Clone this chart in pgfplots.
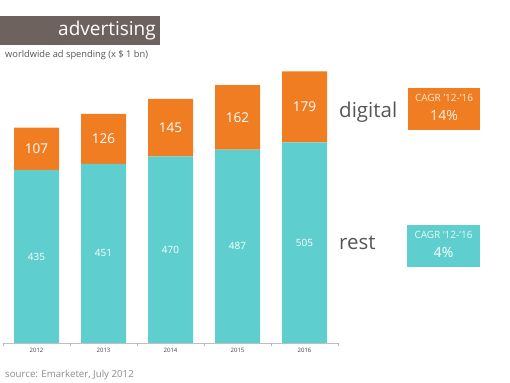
\documentclass[border=0pt]{standalone}
\usepackage{pgfplots}
\pgfplotsset{compat=1.18}
\usepackage{pgfplotstable}
\usepackage{fontspec}
\setmainfont{Open Sans}
\definecolor{dig}{HTML}{F07D22}
\definecolor{rst}{HTML}{5ECFCE}
\definecolor{ttl}{HTML}{6E625E}
\definecolor{txt}{HTML}{555555}
\pgfplotstableread{
x rest digital
0 435 107
1 451 126
2 470 145
3 487 162
4 505 179
}\datatable
\begin{document}
\begin{tikzpicture}[x=1pt,y=1pt]
\path[use as bounding box] (0,0) rectangle (510,382);
\begin{axis}[
  at={(3pt,39pt)}, anchor=south west,
  scale only axis, width=335pt, height=278pt,
  ymin=0, ymax=700, xmin=-0.5, xmax=4.5,
  ybar stacked, bar width=45pt,
  axis y line=none, axis x line*=bottom,
  axis line style={black!25, -},
  /pgf/number format/assume math mode=true,
  xtick={0,1,2,3,4}, xticklabels={2012,2013,2014,2015,2016},
  major tick length=0pt,
  x tick label style={font=\fontsize{6}{7}\selectfont, text=black!75, yshift=-2pt},
  extra x ticks={-0.5,0.5,1.5,2.5,3.5,4.5},
  extra x tick labels={},
  extra x tick style={major tick length=3pt, tick align=outside, tick style={black!30}},
  point meta=explicit,
  nodes near coords,
]
\addplot[fill=rst, draw=none,
  every node near coord/.style={anchor=center, text=white, font=\fontsize{10}{12}\selectfont}]
  table[x=x, y=rest, meta=rest] {\datatable};
\addplot[fill=dig, draw=none,
  every node near coord/.style={anchor=center, text=white, font=\fontsize{13.5}{15}\selectfont}]
  table[x=x, y=digital, meta=digital] {\datatable};
\end{axis}
% title
\fill[ttl] (0,337) rectangle (160,366);
\node[anchor=east, text=white, font=\fontsize{19}{22}\selectfont, inner sep=0pt] at (156,351.5) {advertising};
\node[anchor=west, text=txt, font=\fontsize{9.3}{11}\selectfont, inner sep=0pt] at (5,327) {worldwide ad spending (x \$ 1 bn)};
\node[anchor=west, text=black!45, font=\fontsize{9.7}{11}\selectfont, inner sep=0pt] at (5,7) {source: Emarketer, July 2012};
% series labels
\node[anchor=west, text=txt, font=\fontsize{20.5}{23}\selectfont, inner sep=0pt] at (339,270) {digital};
\node[anchor=west, text=txt, font=\fontsize{20.5}{23}\selectfont, inner sep=0pt] at (339,139) {rest};
% CAGR boxes
\fill[dig] (408,252) rectangle (480,294);
\node[text=white!85!dig, font=\fontsize{10}{12}\selectfont, inner sep=0pt] at (444,284) {CAGR '12-'16};
\node[text=white!90!dig, font=\fontsize{14}{16}\selectfont, inner sep=0pt] at (444,266) {14\%};
\fill[rst] (407,115) rectangle (480,157);
\node[text=white!85!rst, font=\fontsize{10}{12}\selectfont, inner sep=0pt] at (443.5,147) {CAGR '12-'16};
\node[text=white, font=\fontsize{14}{16}\selectfont, inner sep=0pt] at (443.5,129) {4\%};
\end{tikzpicture}
\end{document}
